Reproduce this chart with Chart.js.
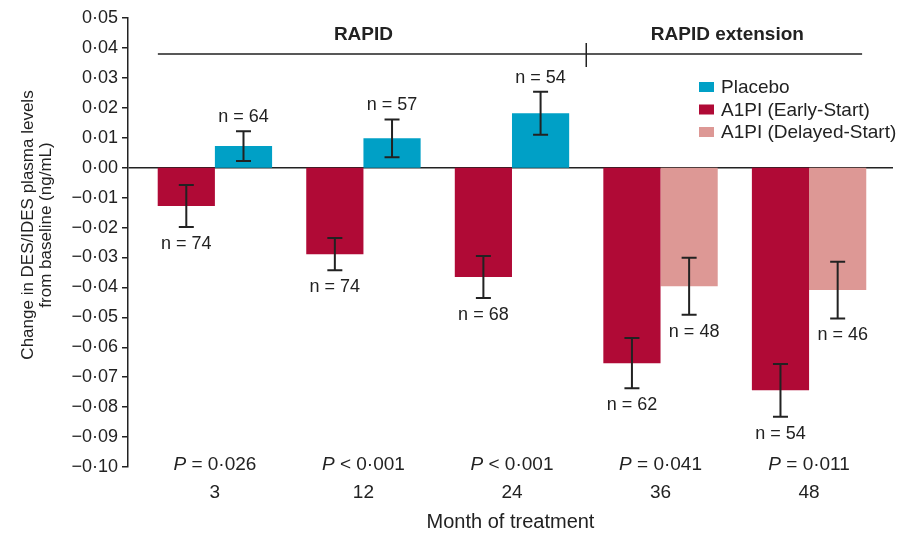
<!DOCTYPE html>
<html>
<head>
<meta charset="utf-8">
<script src="https://cdn.jsdelivr.net/npm/chart.js@4"></script>
<style>
  html, body { margin: 0; padding: 0; background: #fff; }
</style>
</head>
<body>
<canvas id="chart" width="917" height="534"></canvas>
<script>
// month of treatment and the P value shown under each group
const months = ["3", "12", "24", "36", "48"]
const pValues = ["= 0·026", "< 0·001", "< 0·001", "= 0·041", "= 0·011"]

// change from baseline (ng/mL), error bar half width, patients
const placebo = [0.0072, 0.0098, 0.0182, null, null]
const placeboErr = [0.0050, 0.0063, 0.0072, null, null]
const placeboN = [64, 57, 54, null, null]

const earlyStart = [-0.0128, -0.0289, -0.0365, -0.0653, -0.0744]
const earlyErr = [0.0070, 0.0054, 0.0070, 0.0084, 0.0088]
const earlyN = [74, 74, 68, 62, 54]

const delayedStart = [null, null, null, -0.0396, -0.0409]
const delayedErr = [null, null, null, 0.0095, 0.0095]
const delayedN = [null, null, null, 48, 46]

// study periods over the groups (x in group units)
const periodNames = ["RAPID", "RAPID extension"]
const periodCenters = [1, 3.45]

const yTitle = ["Change in DES/IDES plasma levels", "from baseline (ng/mL)"]

const ink = "#222"
const FONT = '"Liberation Sans", Arial, sans-serif'
Chart.defaults.font.family = FONT
Chart.defaults.color = ink

const toPoints = arr => arr.map((v, i) => ({x: i, y: v}))

function fmtTick(v){
    const a = Math.abs(v) < 1e-9 ? 0 : v
    const s = Math.abs(a).toFixed(2).replace(".", "·")
    return a < 0 ? "−" + s : s
}

const annotate = {
    id: "annotate",
    afterDatasetsDraw(chart){
        const {ctx, chartArea, scales: {x, y}} = chart
        ctx.save()
        ctx.strokeStyle = ink
        ctx.fillStyle = ink
        ctx.textAlign = "center"
        ctx.textBaseline = "middle"
        ctx.font = "18px " + FONT

        // error bars and n labels
        chart.data.datasets.forEach((ds, d) => {
            const meta = chart.getDatasetMeta(d)
            meta.data.forEach((bar, i) => {
                const v = ds.data[i].y
                if(v === null) return
                const e = ds.errors[i]
                const top = y.getPixelForValue(v + e)
                const bot = y.getPixelForValue(v - e)
                ctx.lineWidth = 2
                ctx.beginPath()
                ctx.moveTo(bar.x, top); ctx.lineTo(bar.x, bot)
                ctx.moveTo(bar.x - 7.5, top); ctx.lineTo(bar.x + 7.5, top)
                ctx.moveTo(bar.x - 7.5, bot); ctx.lineTo(bar.x + 7.5, bot)
                ctx.stroke()
                const ty = v >= 0 ? top - 14 : bot + 17
                ctx.fillText("n = " + ds.counts[i], bar.x + (d === 2 ? 5 : 0), ty)
            })
        })

        // P values, italic P
        pValues.forEach((p, i) => {
            const cx = x.getPixelForValue(i)
            const cy = chartArea.bottom - 2
            ctx.font = "italic 19px " + FONT
            const wP = ctx.measureText("P").width
            ctx.font = "19px " + FONT
            const rest = " " + p
            const wR = ctx.measureText(rest).width
            const start = cx - (wP + wR) / 2
            ctx.textAlign = "left"
            ctx.font = "italic 19px " + FONT
            ctx.fillText("P", start, cy)
            ctx.font = "19px " + FONT
            ctx.fillText(rest, start + wP, cy)
        })

        // study period header
        ctx.textAlign = "center"
        ctx.font = "bold 19px " + FONT
        periodNames.forEach((name, i) => {
            ctx.fillText(name, x.getPixelForValue(periodCenters[i]), y.getPixelForValue(0.0443))
        })
        const ly = y.getPixelForValue(0.038)
        const mid = x.getPixelForValue(2.5)
        ctx.lineWidth = 1.5
        ctx.beginPath()
        ctx.moveTo(x.getPixelForValue(-0.384), ly)
        ctx.lineTo(x.getPixelForValue(4.357), ly)
        ctx.moveTo(mid, ly - 11)
        ctx.lineTo(mid, ly + 13)
        ctx.stroke()

        // legend
        const order = [1, 0, 2]
        const lx = chartArea.right - 194
        ctx.textAlign = "left"
        ctx.font = "19px " + FONT
        order.forEach((d, k) => {
            const ds = chart.data.datasets[d]
            const ry = chartArea.top + 69 + k * 22.5
            ctx.fillStyle = ds.backgroundColor
            ctx.fillRect(lx, ry - 5, 15, 10)
            ctx.fillStyle = ink
            ctx.fillText(ds.label, lx + 22, ry + 1)
        })

        // y axis title, two lines
        ctx.font = "17px " + FONT
        ctx.textAlign = "center"
        ctx.translate(0, chartArea.top + 207)
        ctx.rotate(-Math.PI / 2)
        yTitle.forEach((line, k) => ctx.fillText(line, 0, 28 + k * 18))
        ctx.restore()
    }
}

new Chart(document.getElementById("chart"), {
    type: "bar",
    data: {
        datasets: [
            {label: "A1PI (Early-Start)", data: toPoints(earlyStart), errors: earlyErr, counts: earlyN, backgroundColor: "#b00a36", stack: "left"},
            {label: "Placebo", data: toPoints(placebo), errors: placeboErr, counts: placeboN, backgroundColor: "#00a0c6", stack: "right"},
            {label: "A1PI (Delayed-Start)", data: toPoints(delayedStart), errors: delayedErr, counts: delayedN, backgroundColor: "#dd9895", stack: "right"}
        ]
    },
    options: {
        responsive: false,
        animation: false,
        datasets: {
            bar: {categoryPercentage: 0.77, barPercentage: 1, borderWidth: 0}
        },
        layout: {padding: {top: 18, right: 24, bottom: 0, left: 0}},
        plugins: {
            legend: {display: false},
            tooltip: {enabled: false}
        },
        scales: {
            x: {
                type: "linear",
                min: -0.585,
                max: 4.565,
                offset: false,
                afterBuildTicks: s => { s.ticks = months.map((m, i) => ({value: i})) },
                ticks: {
                    callback: v => months[v],
                    padding: 14,
                    font: {size: 19},
                    color: ink,
                    autoSkip: false,
                    maxRotation: 0
                },
                grid: {display: false, drawTicks: false},
                border: {display: false},
                title: {
                    display: true,
                    text: "Month of treatment",
                    font: {size: 20},
                    color: ink,
                    padding: {top: 0, bottom: 0}
                },
                afterFit: s => { s.height = 67 }
            },
            y: {
                min: -0.1,
                max: 0.05,
                ticks: {
                    stepSize: 0.01,
                    callback: v => fmtTick(v),
                    font: {size: 18},
                    color: ink,
                    padding: 4
                },
                grid: {
                    color: c => (c.tick && Math.abs(c.tick.value) < 1e-9) ? ink : "rgba(0,0,0,0)",
                    lineWidth: 1.5,
                    tickColor: ink,
                    tickLength: 6
                },
                border: {display: true, color: ink, width: 1.5},
                afterFit: s => { s.width = 128 }
            }
        }
    },
    plugins: [annotate]
})
</script>
</body>
</html>
